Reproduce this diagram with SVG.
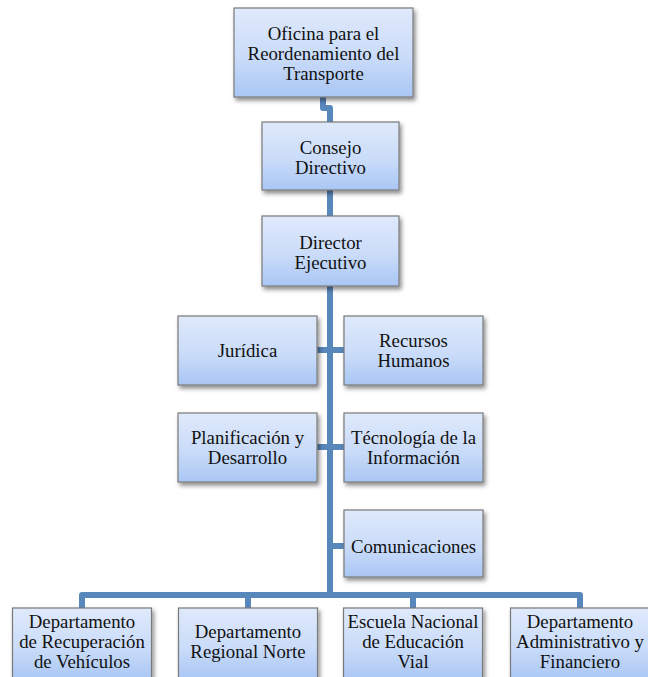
<svg xmlns="http://www.w3.org/2000/svg" width="648" height="677" viewBox="0 0 648 677">
<defs>
<linearGradient id="g" x1="0" y1="0" x2="0" y2="1">
<stop offset="0" stop-color="#dfe9fb"/>
<stop offset="0.55" stop-color="#cadcf9"/>
<stop offset="1" stop-color="#a9c6f4"/>
</linearGradient>
<filter id="sh" x="-10%" y="-10%" width="125%" height="130%">
<feDropShadow dx="2" dy="3" stdDeviation="2.2" flood-color="#000" flood-opacity="0.45"/>
</filter>
<style>
.box{fill:url(#g);stroke:#7a7a7a;stroke-width:1.2;filter:url(#sh)}
.t{font-family:"Liberation Serif","Times New Roman",serif;font-size:18.8px;fill:#111;text-anchor:middle}
.c{fill:none;stroke:#5887bb;stroke-width:6;stroke-linejoin:round}
</style>
</defs>
<rect width="648" height="677" fill="#fff"/>
<g id="connectors">
<path class="c" d="M323,97 V108 H330 V122"/>
<path class="c" d="M330,190 V216"/>
<path class="c" d="M330,286 V595"/>
<path class="c" d="M317,350 H344"/>
<path class="c" d="M317,447 H344"/>
<path class="c" d="M330,546 H344"/>
<path class="c" d="M82,608 V595 H580 V608"/>
<path class="c" d="M248,595 V608"/>
<path class="c" d="M413,595 V608"/>
</g>
<g id="oficina"><rect class="box" x="234" y="8" width="179" height="89"/>
<text class="t" x="323.5" y="40">Oficina para el</text><text class="t" x="323.5" y="60">Reordenamiento del</text><text class="t" x="323.5" y="80">Transporte</text></g>
<g id="consejo"><rect class="box" x="262" y="122" width="137" height="68"/>
<text class="t" x="330.5" y="154">Consejo</text><text class="t" x="330.5" y="174">Directivo</text></g>
<g id="director"><rect class="box" x="262" y="216" width="137" height="70"/>
<text class="t" x="330.5" y="249">Director</text><text class="t" x="330.5" y="269">Ejecutivo</text></g>
<g id="juridica"><rect class="box" x="178" y="316" width="139" height="69"/>
<text class="t" x="247.5" y="357">Jurídica</text></g>
<g id="recursos"><rect class="box" x="344" y="316" width="139" height="69"/>
<text class="t" x="413.5" y="347">Recursos</text><text class="t" x="413.5" y="367">Humanos</text></g>
<g id="planificacion"><rect class="box" x="178" y="413" width="139" height="69"/>
<text class="t" x="247.5" y="444">Planificación y</text><text class="t" x="247.5" y="464">Desarrollo</text></g>
<g id="tecnologia"><rect class="box" x="344" y="413" width="139" height="69"/>
<text class="t" x="413.5" y="444">Técnología de la</text><text class="t" x="413.5" y="464">Información</text></g>
<g id="comunicaciones"><rect class="box" x="344" y="510" width="139" height="67"/>
<text class="t" x="413.5" y="553">Comunicaciones</text></g>
<g id="recuperacion"><rect class="box" x="12.5" y="608" width="139" height="72"/>
<text class="t" x="82" y="628">Departamento</text><text class="t" x="82" y="648">de Recuperación</text><text class="t" x="82" y="668">de Vehículos</text></g>
<g id="regional"><rect class="box" x="178.5" y="608" width="139" height="72"/>
<text class="t" x="248" y="638">Departamento</text><text class="t" x="248" y="658">Regional Norte</text></g>
<g id="escuela"><rect class="box" x="343.5" y="608" width="139" height="72"/>
<text class="t" x="413" y="628">Escuela Nacional</text><text class="t" x="413" y="648">de Educación</text><text class="t" x="413" y="668">Vial</text></g>
<g id="administrativo"><rect class="box" x="510.5" y="608" width="139" height="72"/>
<text class="t" x="580" y="628">Departamento</text><text class="t" x="580" y="648">Administrativo y</text><text class="t" x="580" y="668">Financiero</text></g>
</svg>
